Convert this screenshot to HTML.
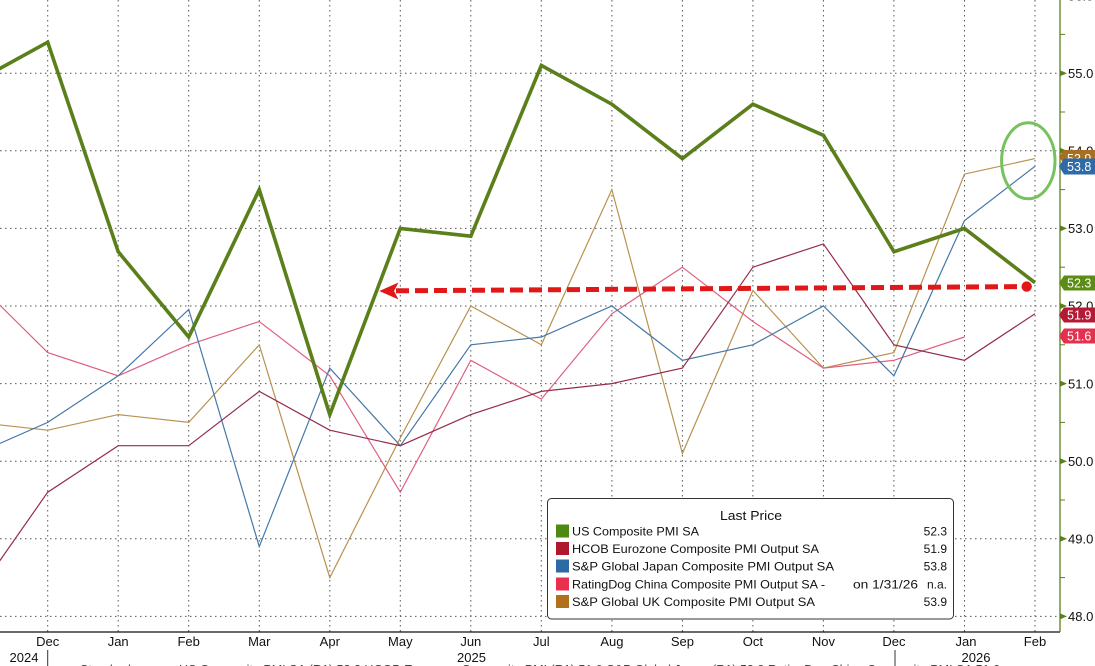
<!DOCTYPE html>
<html><head><meta charset="utf-8">
<style>
html,body{margin:0;padding:0;background:#fff;}
svg{display:block;}
text{font-family:"Liberation Sans","DejaVu Sans",sans-serif;}
</style></head>
<body>
<svg width="1095" height="666" viewBox="0 0 1095 666" xmlns="http://www.w3.org/2000/svg">
<defs><clipPath id="pa"><rect x="0" y="0" width="1060" height="632"/></clipPath></defs>
<rect width="1095" height="666" fill="#fff"/>
<!-- grid -->
<g stroke="#555" stroke-width="1" stroke-dasharray="1.5 3.5" fill="none">
<line x1="0" y1="73.2" x2="1060" y2="73.2"/>
<line x1="0" y1="150.8" x2="1060" y2="150.8"/>
<line x1="0" y1="228.4" x2="1060" y2="228.4"/>
<line x1="0" y1="306" x2="1060" y2="306"/>
<line x1="0" y1="383.6" x2="1060" y2="383.6"/>
<line x1="0" y1="461.2" x2="1060" y2="461.2"/>
<line x1="0" y1="538.8" x2="1060" y2="538.8"/>
<line x1="0" y1="616.4" x2="1060" y2="616.4"/>
<line x1="47.7" y1="0" x2="47.7" y2="632"/>
<line x1="118.2" y1="0" x2="118.2" y2="632"/>
<line x1="188.7" y1="0" x2="188.7" y2="632"/>
<line x1="259.3" y1="0" x2="259.3" y2="632"/>
<line x1="329.8" y1="0" x2="329.8" y2="632"/>
<line x1="400.3" y1="0" x2="400.3" y2="632"/>
<line x1="470.8" y1="0" x2="470.8" y2="632"/>
<line x1="541.3" y1="0" x2="541.3" y2="632"/>
<line x1="611.9" y1="0" x2="611.9" y2="632"/>
<line x1="682.4" y1="0" x2="682.4" y2="632"/>
<line x1="752.9" y1="0" x2="752.9" y2="632"/>
<line x1="823.4" y1="0" x2="823.4" y2="632"/>
<line x1="893.9" y1="0" x2="893.9" y2="632"/>
<line x1="964.5" y1="0" x2="964.5" y2="632"/>
<line x1="1035" y1="0" x2="1035" y2="632"/>
</g>
<!-- series -->
<g clip-path="url(#pa)" fill="none" stroke-linejoin="miter">
<polyline stroke="#b8924e" stroke-width="1.2" points="-22.82,422.4 47.70,430.2 118.22,414.6 188.74,422.4 259.26,344.8 329.78,577.6 400.30,437.9 470.82,306 541.34,344.8 611.86,189.6 682.38,453.4 752.90,290.5 823.42,368.1 893.94,352.6 964.46,174.1 1034.98,158.6"/>
<polyline stroke="#e0607f" stroke-width="1.2" points="-22.82,282.7 47.70,352.6 118.22,375.8 188.74,344.8 259.26,321.5 329.78,375.8 400.30,492.2 470.82,360.3 541.34,399.1 611.86,313.8 682.38,267.2 752.90,321.5 823.42,368.1 893.94,360.3 964.46,337.0"/>
<polyline stroke="#4677a8" stroke-width="1.2" points="-22.82,453.4 47.70,422.4 118.22,375.8 188.74,309.5 259.26,546.6 329.78,368.1 400.30,445.7 470.82,344.8 541.34,337.0 611.86,306 682.38,360.3 752.90,344.8 823.42,306 893.94,375.8 964.46,220.6 1034.98,166.3"/>
<polyline stroke="#952c4c" stroke-width="1.2" points="-22.82,593.1 47.70,492.2 118.22,445.7 188.74,445.7 259.26,391.4 329.78,430.2 400.30,445.7 470.82,414.6 541.34,391.4 611.86,383.6 682.38,368.1 752.90,267.2 823.42,243.9 893.94,344.8 964.46,360.3 1034.98,313.8"/>
<polyline stroke="#5a7f1b" stroke-width="3.6" points="-22.82,81.0 47.70,42.2 118.22,251.7 188.74,337.0 259.26,189.6 329.78,414.6 400.30,228.4 470.82,236.2 541.34,65.4 611.86,104.2 682.38,158.6 752.90,104.2 823.42,135.3 893.94,251.7 964.46,228.4 1034.98,282.7"/>
</g>
<!-- annotation arrow -->
<line x1="396" y1="290.8" x2="1022" y2="286.6" stroke="#e01818" stroke-width="5" stroke-dasharray="13 6"/>
<polygon points="379.3,291 398.5,282.5 394,291 398.5,299.5" fill="#e01818"/>
<circle cx="1026.7" cy="286.6" r="5.2" fill="#e01818"/>
<ellipse cx="1028.3" cy="160.8" rx="26.7" ry="38" fill="none" stroke="#76c25e" stroke-width="3"/>
<!-- axes -->
<line x1="0" y1="632" x2="1060" y2="632" stroke="#111" stroke-width="1.3"/>
<line x1="1060" y1="0" x2="1060" y2="632" stroke="#5a7f1b" stroke-width="1.3"/>
<g stroke="#5a7f1b" stroke-width="1">
<line x1="1060" y1="34.4" x2="1065" y2="34.4"/>
<line x1="1060" y1="112" x2="1065" y2="112"/>
<line x1="1060" y1="189.6" x2="1065" y2="189.6"/>
<line x1="1060" y1="267.2" x2="1065" y2="267.2"/>
<line x1="1060" y1="344.8" x2="1065" y2="344.8"/>
<line x1="1060" y1="422.4" x2="1065" y2="422.4"/>
<line x1="1060" y1="500" x2="1065" y2="500"/>
<line x1="1060" y1="577.6" x2="1065" y2="577.6"/>
</g>
<g fill="#5a7f1b">
<polygon points="1060,70.2 1067,73.2 1060,76.2"/>
<polygon points="1060,147.8 1067,150.8 1060,153.8"/>
<polygon points="1060,225.4 1067,228.4 1060,231.4"/>
<polygon points="1060,303 1067,306 1060,309"/>
<polygon points="1060,380.6 1067,383.6 1060,386.6"/>
<polygon points="1060,458.2 1067,461.2 1060,464.2"/>
<polygon points="1060,535.8 1067,538.8 1060,541.8"/>
<polygon points="1060,613.4 1067,616.4 1060,619.4"/>
</g>
<g font-size="13" fill="#111">
<text x="1068" y="0.3">56.0</text>
<text x="1068" y="77.9">55.0</text>
<text x="1068" y="155.5">54.0</text>
<text x="1068" y="233.1">53.0</text>
<text x="1068" y="310.7">52.0</text>
<text x="1068" y="388.3">51.0</text>
<text x="1068" y="465.9">50.0</text>
<text x="1068" y="543.5">49.0</text>
<text x="1068" y="621.1">48.0</text>
</g>
<!-- value tags -->
<g font-size="12.5" fill="#fff">
<polygon points="1059,157 1064,150 1096,150 1096,164 1064,164" fill="#a8701e"/>
<text x="1067" y="163">53.9</text>
<polygon points="1059,166.5 1064,158.5 1096,158.5 1096,174.5 1064,174.5" fill="#2f6aa8"/>
<text x="1067" y="171">53.8</text>
<polygon points="1059,283 1064,275.5 1096,275.5 1096,290.5 1064,290.5" fill="#5b8c14"/>
<text x="1067" y="287.5">52.3</text>
<polygon points="1059,315 1064,307.5 1096,307.5 1096,322.5 1064,322.5" fill="#b41a34"/>
<text x="1067" y="319.5">51.9</text>
<polygon points="1059,336 1064,328.5 1096,328.5 1096,343.5 1064,343.5" fill="#e4314f"/>
<text x="1067" y="340.5">51.6</text>
</g>
<!-- x labels -->
<g font-size="13" fill="#111" text-anchor="middle">
<text x="47.7" y="646">Dec</text>
<text x="118.2" y="646">Jan</text>
<text x="188.7" y="646">Feb</text>
<text x="259.3" y="646">Mar</text>
<text x="329.8" y="646">Apr</text>
<text x="400.3" y="646">May</text>
<text x="470.8" y="646">Jun</text>
<text x="541.3" y="646">Jul</text>
<text x="611.9" y="646">Aug</text>
<text x="682.4" y="646">Sep</text>
<text x="752.9" y="646">Oct</text>
<text x="823.4" y="646">Nov</text>
<text x="893.9" y="646">Dec</text>
<text x="966" y="646">Jan</text>
<text x="1035" y="646">Feb</text>
<text x="24" y="662">2024</text>
<text x="471.5" y="662">2025</text>
<text x="976" y="662">2026</text>
</g>
<line x1="47.7" y1="650" x2="47.7" y2="666" stroke="#333" stroke-width="1"/>
<line x1="895" y1="650" x2="895" y2="666" stroke="#333" stroke-width="1"/>
<text x="80" y="674" font-size="13" fill="#444" textLength="920" lengthAdjust="spacingAndGlyphs">Standard source: US Composite PMI SA (R1) 52.3 HCOB Eurozone Composite PMI (R1) 51.9 S&amp;P Global Japan (R1) 53.8 RatingDog China Composite PMI SA 51.6</text>
<!-- legend -->
<rect x="547.5" y="498.5" width="406" height="120.5" rx="4" ry="4" fill="#fff" stroke="#333" stroke-width="1"/>
<g font-size="12" fill="#111">
<text x="751" y="520" text-anchor="middle" font-size="13" textLength="62" lengthAdjust="spacingAndGlyphs">Last Price</text>
<rect x="556" y="524.5" width="13" height="13" fill="#4e8a12"/>
<text x="572" y="535.5" textLength="127" lengthAdjust="spacingAndGlyphs">US Composite PMI SA</text>
<text x="947" y="535.5" text-anchor="end">52.3</text>
<rect x="556" y="542" width="13" height="13" fill="#b1162f"/>
<text x="572" y="553" textLength="247" lengthAdjust="spacingAndGlyphs">HCOB Eurozone Composite PMI Output SA</text>
<text x="947" y="553" text-anchor="end">51.9</text>
<rect x="556" y="559.5" width="13" height="13" fill="#2d6aa5"/>
<text x="572" y="570.5" textLength="262" lengthAdjust="spacingAndGlyphs">S&amp;P Global Japan Composite PMI Output SA</text>
<text x="947" y="570.5" text-anchor="end">53.8</text>
<rect x="556" y="577.5" width="13" height="13" fill="#e8304e"/>
<text x="572" y="588.5" textLength="253" lengthAdjust="spacingAndGlyphs">RatingDog China Composite PMI Output SA -</text>
<text x="853" y="588.5" textLength="65" lengthAdjust="spacingAndGlyphs">on 1/31/26</text>
<text x="947" y="588.5" text-anchor="end">n.a.</text>
<rect x="556" y="595" width="13" height="13" fill="#b0701c"/>
<text x="572" y="606" textLength="243" lengthAdjust="spacingAndGlyphs">S&amp;P Global UK Composite PMI Output SA</text>
<text x="947" y="606" text-anchor="end">53.9</text>
</g>
</svg>
</body></html>
